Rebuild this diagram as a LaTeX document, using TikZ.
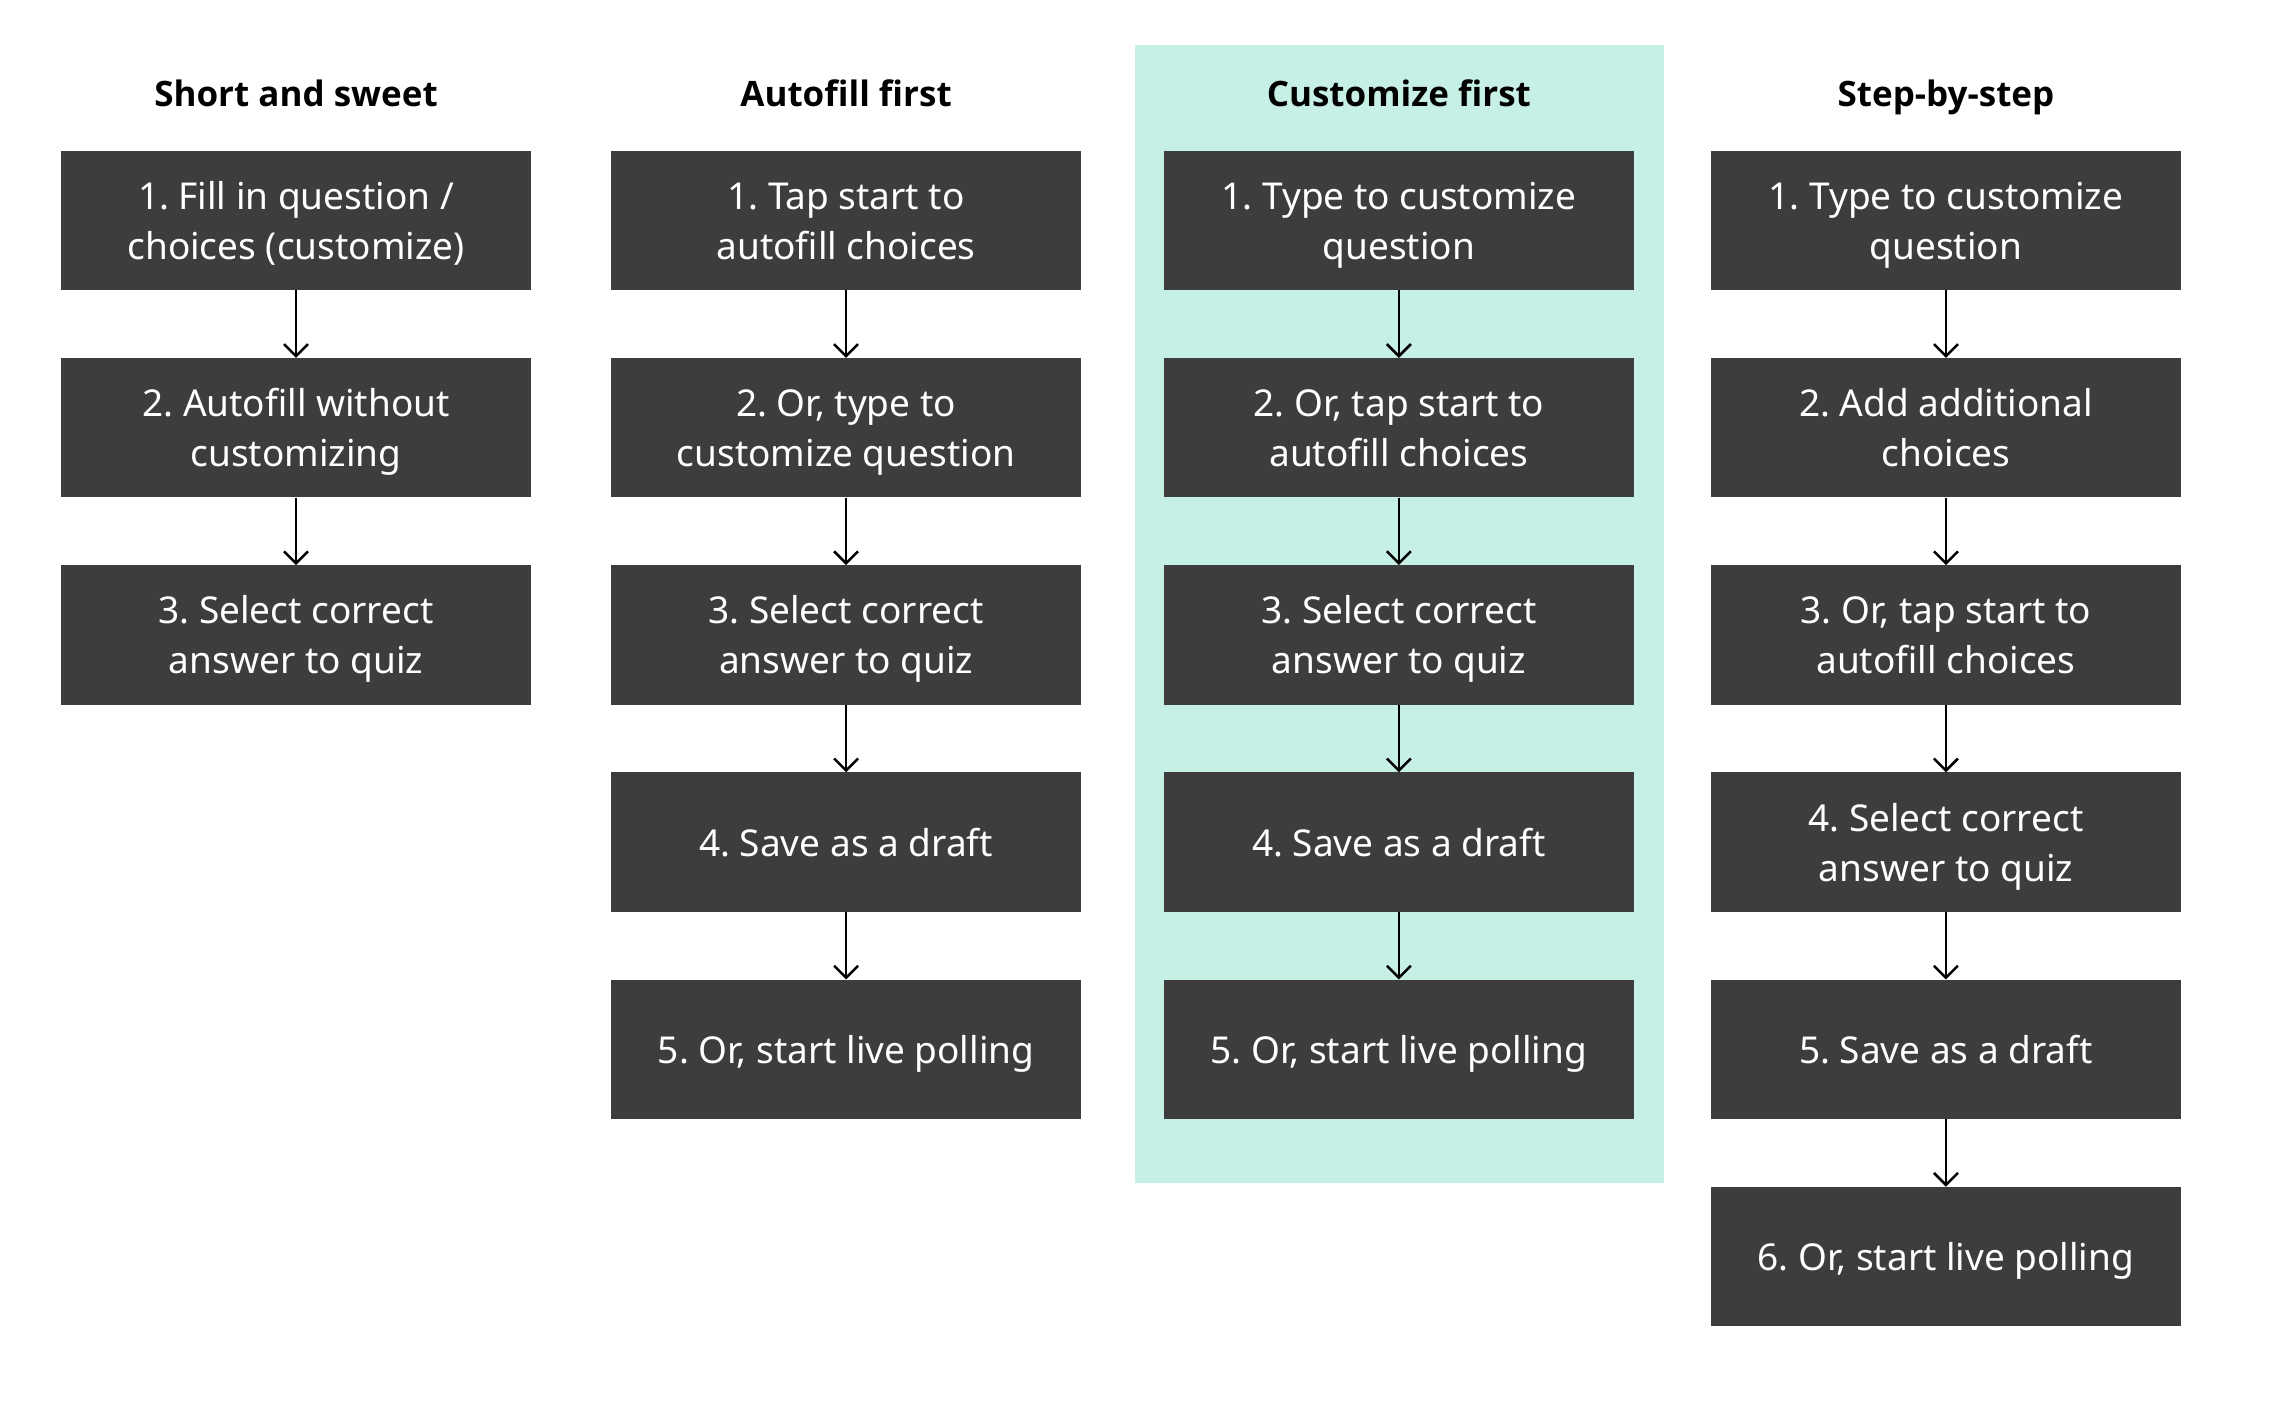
\documentclass[tikz,border=0pt]{standalone}
\usepackage{fontspec}
\setmainfont{Noto Sans}
\newfontfamily\titlefont{Open Sans}
\frenchspacing
\usetikzlibrary{arrows.meta}
\definecolor{boxgray}{HTML}{3D3D3D}
\definecolor{mint}{HTML}{C6EFE5}
\newcommand\bxl[1]{\rule[-3pt]{0pt}{34pt}\smash{#1}}
\begin{document}
\begin{tikzpicture}[x=0.99pt,y=-0.99pt,
  stepbox/.style={fill=boxgray, text=white, minimum width=470.2pt, minimum height=139.3pt,
    inner sep=0pt, align=center, font=\fontsize{37}{50}\selectfont},
  coltitle/.style={font=\titlefont\fontsize{35}{42}\selectfont\bfseries, text=black, anchor=base, inner sep=0pt},
  flow/.style={-{Straight Barb[length=12pt,width=24pt,line width=2.5pt]}, line width=2.5pt, draw=black}]
\useasboundingbox[fill=white] (0,0) rectangle (2298,1426.3);
\fill[mint] (1146,45.4) rectangle (1681,1194.6);

% titles
\node[coltitle] (t1) at (299,108) {Short and sweet};
\node[coltitle] (t2) at (854.6,108) {Autofill first};
\node[coltitle] (t3) at (1413,108) {Customize first};
\node[coltitle] (t4) at (1965.6,108) {Step-by-step};

% column 1
\node[stepbox] (a1) at (299,222.75) {\bxl{1. Fill in question /}\\\bxl{choices (customize)}};
\node[stepbox] (a2) at (299,432.05) {\bxl{2. Autofill without}\\\bxl{customizing}};
\node[stepbox] (a3) at (299,641.35) {\bxl{3. Select correct}\\\bxl{answer to quiz}};

% column 2
\node[stepbox] (b1) at (854.6,222.75) {\bxl{1. Tap start to}\\\bxl{autofill choices}};
\node[stepbox] (b2) at (854.6,432.05) {\bxl{2. Or, type to}\\\bxl{customize question}};
\node[stepbox] (b3) at (854.6,641.35) {\bxl{3. Select correct}\\\bxl{answer to quiz}};
\node[stepbox] (b4) at (854.6,850.65) {\bxl{4. Save as a draft}};
\node[stepbox] (b5) at (854.6,1059.95) {\bxl{5. Or, start live polling}};

% column 3
\node[stepbox] (c1) at (1413,222.75) {\bxl{1. Type to customize}\\\bxl{question}};
\node[stepbox] (c2) at (1413,432.05) {\bxl{2. Or, tap start to}\\\bxl{autofill choices}};
\node[stepbox] (c3) at (1413,641.35) {\bxl{3. Select correct}\\\bxl{answer to quiz}};
\node[stepbox] (c4) at (1413,850.65) {\bxl{4. Save as a draft}};
\node[stepbox] (c5) at (1413,1059.95) {\bxl{5. Or, start live polling}};

% column 4
\node[stepbox] (d1) at (1965.6,222.75) {\bxl{1. Type to customize}\\\bxl{question}};
\node[stepbox] (d2) at (1965.6,432.05) {\bxl{2. Add additional}\\\bxl{choices}};
\node[stepbox] (d3) at (1965.6,641.35) {\bxl{3. Or, tap start to}\\\bxl{autofill choices}};
\node[stepbox] (d4) at (1965.6,850.65) {\bxl{4. Select correct}\\\bxl{answer to quiz}};
\node[stepbox] (d5) at (1965.6,1059.95) {\bxl{5. Save as a draft}};
\node[stepbox] (d6) at (1965.6,1269.25) {\bxl{6. Or, start live polling}};

% connectors
\draw[flow] (a1.south) -- (a2.north);
\draw[flow] (a2.south) -- (a3.north);
\draw[flow] (b1.south) -- (b2.north);
\draw[flow] (b2.south) -- (b3.north);
\draw[flow] (b3.south) -- (b4.north);
\draw[flow] (b4.south) -- (b5.north);
\draw[flow] (c1.south) -- (c2.north);
\draw[flow] (c2.south) -- (c3.north);
\draw[flow] (c3.south) -- (c4.north);
\draw[flow] (c4.south) -- (c5.north);
\draw[flow] (d1.south) -- (d2.north);
\draw[flow] (d2.south) -- (d3.north);
\draw[flow] (d3.south) -- (d4.north);
\draw[flow] (d4.south) -- (d5.north);
\draw[flow] (d5.south) -- (d6.north);
\end{tikzpicture}
\end{document}
